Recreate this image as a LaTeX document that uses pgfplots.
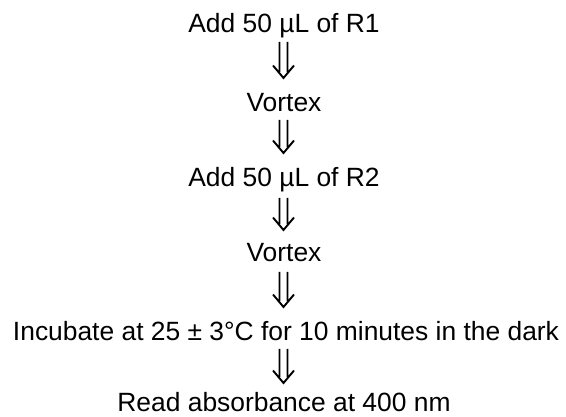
\documentclass[border=0pt]{standalone}
\usepackage{pgfplots}
\pgfplotsset{compat=1.18}
\usepackage{fontspec}
\setmainfont{Liberation Sans}
\begin{document}
\begin{tikzpicture}
\begin{axis}[
  width=566pt, height=417pt, scale only axis,
  xmin=0, xmax=566, ymin=0, ymax=417, y dir=reverse,
  hide axis, clip=false,
  nodes near coords style={font=\fontsize{26.4}{30}\selectfont, anchor=base, inner sep=0pt, text=black},
]
\addplot[draw=none, mark=none, forget plot] coordinates {(0,0) (566,417)};
\addplot[draw=none, mark=none, nodes near coords, point meta=explicit symbolic]
  table[col sep=comma, x=x, y=y, meta=label] {
x,y,label
284,33,Add 50 µL of R1
284,112,Vortex
284,187,Add 50 µL of R2
284,262,Vortex
286,340.5,Incubate at 25 ± 3°C for 10 minutes in the dark
284,411.5,Read absorbance at 400 nm
};
\addplot[black, line width=1.9pt, mark=none, unbounded coords=jump] table {
x y
279.5 42
279.5 72
nan nan
287.5 42
287.5 72
nan nan
273 65.5
283.5 78
294 65.5
nan nan
279.5 120
279.5 147
nan nan
287.5 120
287.5 147
nan nan
273 140.5
283.5 153
294 140.5
nan nan
279.5 198
279.5 224
nan nan
287.5 198
287.5 224
nan nan
273 217.5
283.5 230
294 217.5
nan nan
279.5 272
279.5 301
nan nan
287.5 272
287.5 301
nan nan
273 294.5
283.5 307
294 294.5
nan nan
279.5 349
279.5 377
nan nan
287.5 349
287.5 377
nan nan
273 370.5
283.5 383
294 370.5
};
\end{axis}
\end{tikzpicture}
\end{document}
